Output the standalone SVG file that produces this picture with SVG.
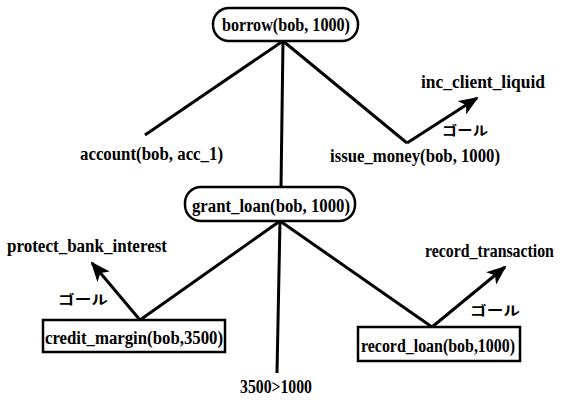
<svg xmlns="http://www.w3.org/2000/svg" width="563" height="402" viewBox="0 0 563 402">
<style>
.t{font-family:"Liberation Serif","DejaVu Serif",serif;font-weight:bold;font-size:18px;fill:#000}
.j{font-family:"Noto Sans CJK JP","Noto Sans",sans-serif;font-size:13px;font-weight:bold;fill:#000}
.box{fill:#fff;stroke:#000;stroke-width:2.5}
.ln{stroke:#000;stroke-width:3;fill:none}
</style>
<defs>
<marker id="ah" markerUnits="userSpaceOnUse" markerWidth="20" markerHeight="16" refX="18" refY="8" orient="auto">
<path d="M0,0 L20,8 L0,16 L5,8 Z" fill="#000"/>
</marker>
</defs>
<rect width="563" height="402" fill="#fff"/>
<g id="connectors">
<line class="ln" x1="283" y1="41" x2="145" y2="135"/>
<line class="ln" x1="283" y1="41" x2="281" y2="187"/>
<line class="ln" x1="283" y1="41" x2="407" y2="143"/>
<line class="ln" x1="407" y1="143" x2="477" y2="98" marker-end="url(#ah)"/>
<line class="ln" x1="280" y1="221" x2="140" y2="320"/>
<line class="ln" x1="280" y1="221" x2="277" y2="373"/>
<line class="ln" x1="280" y1="221" x2="432" y2="327"/>
<line class="ln" x1="140" y1="320" x2="92" y2="263" marker-end="url(#ah)"/>
<line class="ln" x1="432" y1="327" x2="505" y2="267" marker-end="url(#ah)"/>
<text class="j" x="442" y="135" textLength="46" lengthAdjust="spacingAndGlyphs">ゴール</text>
<text class="j" x="58" y="304" textLength="50" lengthAdjust="spacingAndGlyphs">ゴール</text>
<text class="j" x="470" y="315" textLength="50" lengthAdjust="spacingAndGlyphs">ゴール</text>
</g>
<g id="borrow">
<rect class="box" x="213" y="8" width="145" height="33" rx="16"/>
<text class="t" x="222" y="31" textLength="128" lengthAdjust="spacingAndGlyphs">borrow(bob, 1000)</text>
</g>
<g id="account">
<text class="t" x="80" y="160" textLength="143" lengthAdjust="spacingAndGlyphs">account(bob, acc_1)</text>
</g>
<g id="issue_money">
<text class="t" x="330" y="162" textLength="170" lengthAdjust="spacingAndGlyphs">issue_money(bob, 1000)</text>
</g>
<g id="inc_client_liquid">
<text class="t" x="421" y="88" textLength="124" lengthAdjust="spacingAndGlyphs">inc_client_liquid</text>
</g>
<g id="grant_loan">
<rect class="box" x="185" y="187" width="170" height="34" rx="16"/>
<text class="t" x="192" y="212" textLength="158" lengthAdjust="spacingAndGlyphs">grant_loan(bob, 1000)</text>
</g>
<g id="protect_bank_interest">
<text class="t" x="7" y="252" textLength="160" lengthAdjust="spacingAndGlyphs">protect_bank_interest</text>
</g>
<g id="credit_margin">
<rect class="box" x="43" y="320" width="182" height="32"/>
<text class="t" x="45" y="344" textLength="178" lengthAdjust="spacingAndGlyphs">credit_margin(bob,3500)</text>
</g>
<g id="record_transaction">
<text class="t" transform="translate(425,257) scale(0.88,1)" x="0" y="0">record_transaction</text>
</g>
<g id="record_loan">
<rect class="box" x="358" y="327" width="162" height="34"/>
<text class="t" x="361" y="352" textLength="154" lengthAdjust="spacingAndGlyphs">record_loan(bob,1000)</text>
</g>
<g id="condition">
<text class="t" x="240" y="393" textLength="72" lengthAdjust="spacingAndGlyphs">3500&gt;1000</text>
</g>
</svg>
